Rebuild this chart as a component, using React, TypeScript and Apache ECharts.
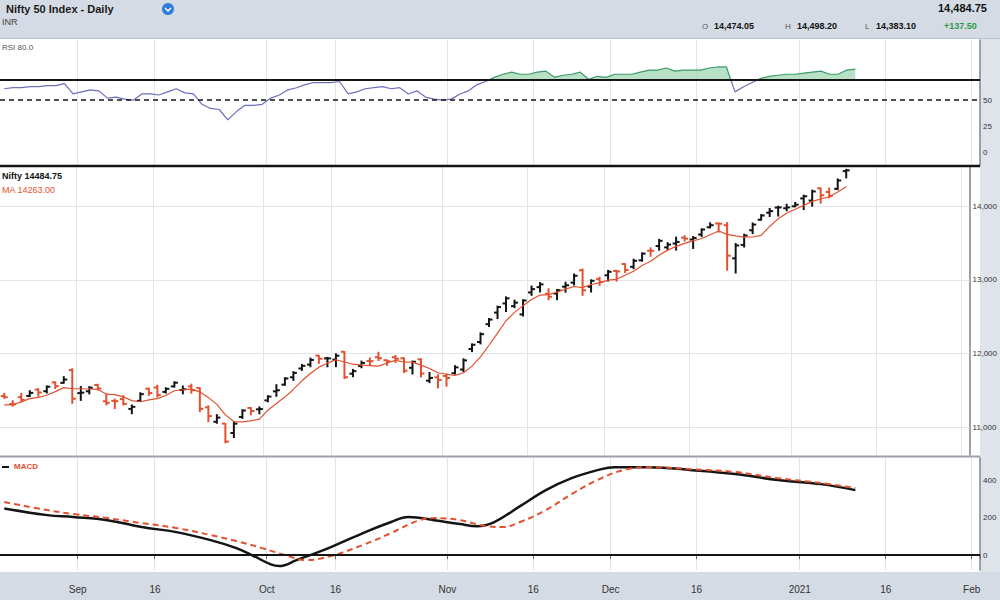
import React, { useEffect, useRef } from "react";
import * as echarts from "echarts";

// ---------- DATA ----------
const tradingDays = [
  "2020-08-19","2020-08-20","2020-08-21","2020-08-24","2020-08-25","2020-08-26","2020-08-27","2020-08-28","2020-08-31",
  "2020-09-01","2020-09-02","2020-09-03","2020-09-04","2020-09-07","2020-09-08","2020-09-09","2020-09-10","2020-09-11","2020-09-14","2020-09-15","2020-09-16","2020-09-17","2020-09-18","2020-09-21","2020-09-22","2020-09-23","2020-09-24","2020-09-25","2020-09-28","2020-09-29","2020-09-30",
  "2020-10-01","2020-10-05","2020-10-06","2020-10-07","2020-10-08","2020-10-09","2020-10-12","2020-10-13","2020-10-14","2020-10-15","2020-10-16","2020-10-19","2020-10-20","2020-10-21","2020-10-22","2020-10-23","2020-10-26","2020-10-27","2020-10-28","2020-10-29","2020-10-30",
  "2020-11-02","2020-11-03","2020-11-04","2020-11-05","2020-11-06","2020-11-09","2020-11-10","2020-11-11","2020-11-12","2020-11-13","2020-11-17","2020-11-18","2020-11-19","2020-11-20","2020-11-23","2020-11-24","2020-11-25","2020-11-26","2020-11-27",
  "2020-12-01","2020-12-02","2020-12-03","2020-12-04","2020-12-07","2020-12-08","2020-12-09","2020-12-10","2020-12-11","2020-12-14","2020-12-15","2020-12-16","2020-12-17","2020-12-18","2020-12-21","2020-12-22","2020-12-23","2020-12-24","2020-12-28","2020-12-29","2020-12-30","2020-12-31",
  "2021-01-01","2021-01-04","2021-01-05","2021-01-06","2021-01-07","2021-01-08","2021-01-11","2021-01-12","2021-01-13","2021-01-14","2021-01-15","2021-01-18","2021-01-19","2021-01-20","2021-01-21","2021-01-22","2021-01-25","2021-01-27","2021-01-28","2021-01-29",
  "2021-02-01",
];

const tickDates = ["2020-09-01","2020-09-14","2020-10-01","2020-10-14","2020-11-02","2020-11-17","2020-12-01","2020-12-15","2021-01-01","2021-01-15","2021-02-01"];
const tickTexts = ["Sep","16","Oct","16","Nov","16","Dec","16","2021","16","Feb"];

const opens = [
  11424,11317,11409,11426,11512,11490,11609,11603,11777,
  11464,11489,11574,11354,11359,11383,11250,11359,11524,11540,11481,11555,11507,11555,11535,11271,11075,11051,10923,11141,11263,11244,
  11365,11488,11579,11679,11798,11851,11973,11935,11918,12025,11728,11833,11901,11951,11910,11950,11937,11807,11922,11633,11678,
  11697,11734,11784,12062,12157,12399,12556,12680,12643,12531,12829,12901,12811,12813,12907,12962,13130,12907,13012,
  13062,13121,13215,13177,13265,13394,13458,13440,13493,13572,13547,13614,13713,13765,13741,13292,13473,13672,13815,13910,13980,13970,
  13997,14104,14075,14241,14191,14234,14474.05,
];
const highs = [
  11460,11361,11460,11497,11525,11561,11618,11687,11794,
  11554,11553,11584,11453,11382,11429,11303,11469,11531,11571,11536,11618,11561,11586,11535,11290,11172,11051,11075,11239,11268,11276,
  11428,11578,11673,11755,11853,11939,11973,11949,11997,12025,11786,11898,11941,12018,11914,11974,11942,11899,11929,11744,11711,
  11726,11836,11929,12131,12281,12475,12644,12769,12724,12730,12916,12963,12879,12870,12968,13079,13146,13000,13036,
  13128,13128,13217,13280,13366,13434,13549,13504,13579,13597,13587,13692,13773,13771,13777,13493,13619,13771,13885,13968,13998,14025,
  14049,14148,14216,14245,14244,14368,14498.2,
];
const lows = [
  11394,11289,11349,11418,11424,11465,11527,11600,11326,
  11366,11453,11506,11304,11255,11304,11185,11353,11433,11410,11465,11546,11454,11463,11214,11076,11056,10791,10862,11122,11171,11184,
  11347,11421,11571,11636,11772,11822,11867,11821,11823,11661,11687,11808,11848,11906,11841,11880,11742,11723,11684,11606,11535,
  11557,11723,11757,12027,12131,12367,12475,12571,12624,12510,12790,12835,12730,12730,12833,12930,12790,12835,12926,
  12983,12983,13100,13152,13253,13321,13402,13403,13403,13528,13426,13587,13705,13647,13131,13093,13445,13626,13811,13859,13865,13936,
  13991,13954,13999,14039,14113,14222,14383.1,
];
const closes = [
  11409,11312,11372,11467,11472,11550,11559,11648,11388,
  11470,11536,11527,11333,11355,11318,11278,11450,11465,11440,11522,11605,11516,11505,11251,11153,11132,10806,11050,11228,11222,11248,
  11417,11503,11662,11738,11834,11914,11930,11935,11971,11680,11762,11873,11897,11937,11896,11930,11768,11889,11730,11670,11642,
  11669,11813,11908,12120,12264,12461,12631,12749,12691,12720,12874,12938,12771,12860,12926,13055,12858,12987,12969,
  13109,13114,13134,13258,13356,13393,13529,13478,13514,13558,13567,13682,13741,13761,13328,13466,13601,13749,13873,13932,13982,13982,
  14019,14133,14199,14146,14137,14347.25,14484.75,
];
const movingAvg = [
  11304,11306,11345,11389,11406,11435,11484,11539,11523,
  11523,11520,11514,11451,11444,11414,11362,11347,11373,11390,11431,11496,11510,11518,11480,11406,11311,11169,11078,11074,11088,11111,
  11233,11324,11410,11514,11631,11730,11816,11870,11917,11886,11856,11844,11837,11830,11873,11907,11886,11884,11843,11797,11740,
  11720,11705,11740,11830,11955,12113,12277,12445,12559,12650,12733,12794,12799,12833,12874,12910,12894,12937,12959,
  12996,13007,13063,13117,13194,13251,13334,13403,13454,13494,13529,13560,13612,13662,13616,13596,13579,13581,13603,13724,13827,13904,
  13958,14010,14063,14096,14127,14192,14263,
];
const rsiValues = [
  61,62,62,63,63,64,64,66,56,
  58,60,59,52,53,51,50,56,56,55,58,61,57,56,46,42,41,31,39,45,45,46,
  52,55,60,62,65,67,67,67,68,56,58,61,62,63,61,62,56,59,53,51,50,
  51,56,59,65,68,72,75,77,75,75,77,78,72,74,75,77,70,73,72,
  75,75,75,77,79,79,81,78,79,79,79,81,82,82,58,63,67,71,73,74,75,75,
  76,77,78,75,75,79,80,
];
const macdDates = ["2020-08-19","2020-08-26","2020-08-31","2020-09-04","2020-09-10","2020-09-16","2020-09-22","2020-09-25","2020-09-29","2020-10-01","2020-10-05","2020-10-07","2020-10-13","2020-10-19","2020-10-22","2020-10-26","2020-10-29","2020-11-03","2020-11-05","2020-11-09","2020-11-12","2020-11-18","2020-11-23","2020-11-26","2020-12-01","2020-12-07","2020-12-14","2020-12-21","2020-12-29","2021-01-05","2021-01-11"];
const macdValues = [250,214,204,187,150,123,80,37,-5,-50,-59,-27,43,123,177,204,187,166,155,177,262,348,412,455,471,471,455,434,402,380,348];
const signalDates = ["2020-08-19","2020-08-26","2020-08-31","2020-09-04","2020-09-10","2020-09-16","2020-09-22","2020-09-25","2020-09-30","2020-10-06","2020-10-08","2020-10-13","2020-10-19","2020-10-22","2020-10-27","2020-10-29","2020-11-03","2020-11-06","2020-11-10","2020-11-12","2020-11-18","2020-11-23","2020-11-26","2020-12-02","2020-12-07","2020-12-14","2020-12-21","2020-12-29","2021-01-05","2021-01-11"];
const signalValues = [284,241,220,198,171,145,107,75,37,-5,-27,-5,59,118,182,198,187,155,150,177,241,327,402,455,471,460,445,412,386,359];

const priceGridLines = [11000, 12000, 13000, 14000];

// ---------- STYLE ----------
const FONT = "'Liberation Sans', Arial, sans-serif";
const RED = "#e4502f";
const BLACK = "#141414";
const GRID_R = 20;

const fmt2 = (v: number) => v.toLocaleString("en-US", { minimumFractionDigits: 2, maximumFractionDigits: 2 });

export default function App() {
  const ref = useRef<HTMLDivElement>(null);

  useEffect(() => {
    document.body.style.margin = "0";
    if (!ref.current) return;
    const chart = echarts.init(ref.current, undefined, { renderer: "svg" });

    const labelMap: Record<string, string> = {};
    tickDates.forEach((d, i) => (labelMap[d] = tickTexts[i]));
    const tickFn = (_i: number, v: string) => labelMap[v] !== undefined;

    const last = closes.length - 1;
    const ohlc = closes.map((c, i) => [i, opens[i], highs[i], lows[i], c]);
    const macdData = macdDates.map((d, i) => [d, macdValues[i]]);
    const signalData = signalDates.map((d, i) => [d, signalValues[i]]);

    const xAxisFor = (gi: number) => ({
      type: "category",
      gridIndex: gi,
      data: tradingDays,
      boundaryGap: true,
      axisLine: { show: gi === 2, lineStyle: { color: "#8f98a3", width: 1.5 } },
      axisTick: { show: gi === 2, interval: tickFn, length: 4, lineStyle: { color: "#666" } },
      axisLabel: {
        show: gi === 2,
        interval: tickFn,
        formatter: (v: string) => labelMap[v] ?? "",
        color: "#333",
        fontSize: 10,
        fontFamily: FONT,
        margin: 14,
        padding: [0, 8, 0, 0],
      },
      splitLine: { show: true, interval: tickFn, lineStyle: { color: "#e1e4e8", width: 1 } },
    });

    const yAxisFor = (gi: number, min: number, max: number, interval: number, show: (v: number) => boolean, f: (v: number) => string) => ({
      type: "value",
      gridIndex: gi,
      position: "right",
      min,
      max,
      interval,
      axisLine: { show: true, lineStyle: { color: "#7d8792", width: 1.5 } },
      axisTick: { show: false },
      axisLabel: {
        color: "#333",
        fontSize: 8,
        fontFamily: FONT,
        margin: 3,
        showMinLabel: false,
        showMaxLabel: false,
        formatter: (v: number) => (show(v) ? f(v) : ""),
      },
      splitLine: { show: false },
    });

    const badge = (value: number, bg: string, text: string) => ({
      yAxis: value,
      lineStyle: { opacity: 0 },
      label: {
        show: true,
        position: "end",
        formatter: text,
        color: "#fff",
        backgroundColor: bg,
        padding: [2, 2, 1, 2],
        borderRadius: 3,
        fontSize: 7,
        fontWeight: "bold",
        fontFamily: FONT,
        distance: 2,
      },
    });

    const option: any = {
      animation: false,
      backgroundColor: "#ffffff",
      textStyle: { fontFamily: FONT },
      grid: [
        { left: 0, right: GRID_R, top: 40, height: 125 },
        { left: 0, right: GRID_R, top: 167, height: 288 },
        { left: 0, right: GRID_R, top: 458, height: 112 },
      ],
      xAxis: [xAxisFor(0), xAxisFor(1), xAxisFor(2)],
      yAxis: [
        yAxisFor(0, -12.5, 108, 12.5, (v) => v === 0 || v === 25 || v === 50, (v) => String(v)),
        yAxisFor(1, 10625, 14530, 125, (v) => v % 1000 === 0, (v) => v.toLocaleString("en-US")),
        yAxisFor(2, -80, 520, 40, (v) => v % 200 === 0, (v) => String(v)),
      ],
      visualMap: [
        {
          show: false,
          type: "piecewise",
          seriesIndex: 0,
          dimension: 1,
          pieces: [
            { gt: 70, lte: 150, color: "#3c9a68" },
            { gte: -50, lte: 70, color: "#6b6fbe" },
          ],
        },
        {
          show: false,
          type: "piecewise",
          seriesIndex: 1,
          dimension: 1,
          pieces: [
            { gt: 70, lte: 150, color: "#a6d9b6" },
            { gte: -50, lte: 70, color: "rgba(255,255,255,0)" },
          ],
        },
      ],
      series: [
        {
          type: "line",
          xAxisIndex: 0,
          yAxisIndex: 0,
          data: rsiValues,
          showSymbol: false,
          lineStyle: { width: 1.2 },
          z: 4,
          markLine: {
            silent: true,
            symbol: "none",
            data: [badge(rsiValues[last], "#2f55b5", String(rsiValues[last]))],
          },
        },
        {
          type: "line",
          xAxisIndex: 0,
          yAxisIndex: 0,
          data: rsiValues,
          showSymbol: false,
          lineStyle: { width: 0 },
          areaStyle: { origin: 70, opacity: 0.8 },
          z: 2,
          markLine: {
            silent: true,
            symbol: "none",
            label: { show: false },
            data: [
              { yAxis: 70, lineStyle: { color: BLACK, width: 2, type: "solid" } },
              { yAxis: 50, lineStyle: { color: BLACK, width: 1.5, type: [5, 4] } },
            ],
          },
        },
        {
          type: "custom",
          xAxisIndex: 1,
          yAxisIndex: 1,
          data: ohlc,
          encode: { x: 0, y: [1, 2, 3, 4] },
          clip: true,
          z: 3,
          renderItem: (_params: any, api: any) => {
            const x = api.value(0);
            const o = api.value(1);
            const h = api.value(2);
            const l = api.value(3);
            const c = api.value(4);
            const ph = api.coord([x, h]);
            const pl = api.coord([x, l]);
            const po = api.coord([x, o]);
            const pc = api.coord([x, c]);
            const color = c >= o ? BLACK : RED;
            const style = { stroke: color, lineWidth: 2 };
            return {
              type: "group",
              children: [
                { type: "line", shape: { x1: ph[0], y1: ph[1] - 0.5, x2: pl[0], y2: pl[1] + 0.5 }, style },
                { type: "line", shape: { x1: po[0] - 3.5, y1: po[1], x2: po[0], y2: po[1] }, style },
                { type: "line", shape: { x1: pc[0], y1: pc[1], x2: pc[0] + 3.5, y2: pc[1] }, style },
              ],
            };
          },
        },
        {
          type: "line",
          xAxisIndex: 1,
          yAxisIndex: 1,
          data: movingAvg,
          showSymbol: false,
          lineStyle: { color: RED, width: 1.2 },
          z: 4,
          markLine: {
            silent: true,
            symbol: "none",
            z: 1,
            label: { show: false },
            data: [
              ...priceGridLines.map((v) => ({ yAxis: v, lineStyle: { color: "#e1e4e8", width: 1, type: "solid" } })),
              badge(closes[last], BLACK, String(Math.round(closes[last]))),
              badge(movingAvg[last], RED, String(movingAvg[last])),
            ],
          },
        },
        {
          type: "line",
          xAxisIndex: 2,
          yAxisIndex: 2,
          data: macdData,
          smooth: 0.4,
          showSymbol: false,
          lineStyle: { color: BLACK, width: 2.5 },
          z: 3,
          markLine: {
            silent: true,
            symbol: "none",
            label: { show: false },
            data: [
              { yAxis: 0, lineStyle: { color: BLACK, width: 2, type: "solid" } },
              badge(macdValues[macdValues.length - 1], BLACK, String(macdValues[macdValues.length - 1])),
            ],
          },
        },
        {
          type: "line",
          xAxisIndex: 2,
          yAxisIndex: 2,
          data: signalData,
          smooth: 0.4,
          showSymbol: false,
          lineStyle: { color: RED, width: 2, type: [6, 4] },
          z: 4,
        },
      ],
      graphic: [
        { type: "rect", z: -10, shape: { x: 0, y: 0, width: 1000, height: 38 }, style: { fill: "#d5dbe4" } },
        { type: "rect", z: -10, shape: { x: 0, y: 572, width: 1000, height: 28 }, style: { fill: "#d5dbe4" } },
        { type: "rect", z: -10, shape: { x: 1000 - GRID_R, y: 38, width: GRID_R, height: 534 }, style: { fill: "#dfe3ea" } },
        { type: "line", z: 10, shape: { x1: 0, y1: 38.5, x2: 1000, y2: 38.5 }, style: { stroke: "#b9c1cc", lineWidth: 1 } },
        { type: "line", z: 10, shape: { x1: 0, y1: 166, x2: 1000 - GRID_R, y2: 166 }, style: { stroke: BLACK, lineWidth: 2.5 } },
        { type: "line", z: 10, shape: { x1: 0, y1: 456.5, x2: 1000 - GRID_R, y2: 456.5 }, style: { stroke: "#9aa1aa", lineWidth: 2 } },
        { type: "text", x: 6, y: 3, style: { text: "Nifty 50 Index - Daily", font: `bold 11px ${FONT}`, fill: "#1a1a1a" } },
        { type: "circle", shape: { cx: 168, cy: 9, r: 6 }, style: { fill: "#2f7bd8" } },
        { type: "polyline", shape: { points: [[165, 8], [168, 11], [171, 8]] }, style: { stroke: "#fff", lineWidth: 1.5, fill: "none" } },
        { type: "text", x: 2, y: 17, style: { text: "INR", font: `9px ${FONT}`, fill: "#444" } },
        { type: "text", x: 938, y: 2, style: { text: fmt2(closes[last]), font: `bold 11px ${FONT}`, fill: "#111" } },
        { type: "text", x: 702, y: 22, style: { text: "O", font: `8px ${FONT}`, fill: "#555" } },
        { type: "text", x: 714, y: 21, style: { text: fmt2(opens[last]), font: `bold 9px ${FONT}`, fill: "#111" } },
        { type: "text", x: 785, y: 22, style: { text: "H", font: `8px ${FONT}`, fill: "#555" } },
        { type: "text", x: 797, y: 21, style: { text: fmt2(highs[last]), font: `bold 9px ${FONT}`, fill: "#111" } },
        { type: "text", x: 865, y: 22, style: { text: "L", font: `8px ${FONT}`, fill: "#555" } },
        { type: "text", x: 876, y: 21, style: { text: fmt2(lows[last]), font: `bold 9px ${FONT}`, fill: "#111" } },
        { type: "text", x: 944, y: 21, style: { text: "+" + fmt2(closes[last] - closes[last - 1]), font: `bold 9px ${FONT}`, fill: "#2e9a4a" } },
        { type: "text", x: 2, y: 43, style: { text: "RSI " + rsiValues[last].toFixed(1), font: `8px ${FONT}`, fill: "#555" } },
        { type: "text", x: 2, y: 171, style: { text: "Nifty " + closes[last].toFixed(2), font: `bold 9px ${FONT}`, fill: "#111" } },
        { type: "text", x: 2, y: 185, style: { text: "MA " + movingAvg[last].toFixed(2), font: `9px ${FONT}`, fill: RED } },
        { type: "line", shape: { x1: 2, y1: 467, x2: 9, y2: 467 }, style: { stroke: BLACK, lineWidth: 2 } },
        { type: "text", x: 14, y: 462, style: { text: "MACD", font: `bold 8px ${FONT}`, fill: RED } },
      ],
    };

    chart.setOption(option);
    return () => chart.dispose();
  }, []);

  return <div ref={ref} style={{ width: 1000, height: 600 }} />;
}
